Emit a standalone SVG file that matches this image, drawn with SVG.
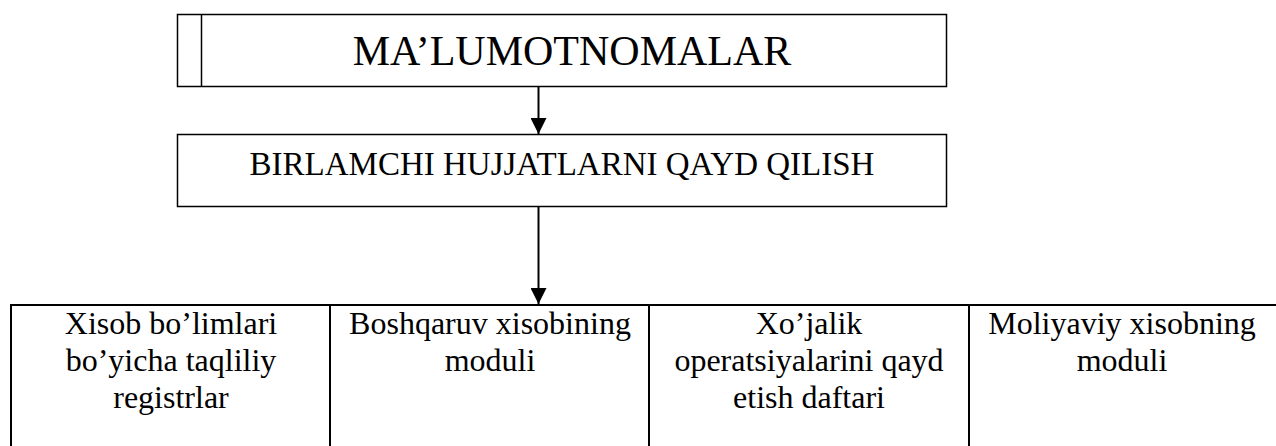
<svg xmlns="http://www.w3.org/2000/svg" width="1276" height="446" viewBox="0 0 1276 446">
  <style>
    .box { fill: #ffffff; stroke: #000000; stroke-width: 1.5; }
    .cell { fill: none; stroke: #000000; stroke-width: 2; }
    .wire { fill: none; stroke: #000000; stroke-width: 2; }
    .t { font-family: "Liberation Serif", "Times New Roman", serif; fill: #000000; text-anchor: middle; }
    .t42 { font-size: 42px; }
    .t33 { font-size: 33px; }
    .t32 { font-size: 32px; }
  </style>
  <defs>
    <marker id="arrowhead" markerUnits="userSpaceOnUse" markerWidth="16" markerHeight="16" refX="16" refY="8" orient="auto">
      <path d="M0,0 L16,8 L0,16 Z" fill="#000000"/>
    </marker>
  </defs>
  <rect x="0" y="0" width="1276" height="446" fill="#ffffff"/>

  <!-- reference books block -->
  <g id="node-malumotnomalar">
    <rect class="box" x="177.5" y="14.5" width="769" height="72"/>
    <line class="box" x1="201.5" y1="14.5" x2="201.5" y2="86.5"/>
    <text class="t t42" x="572" y="64.5">MA’LUMOTNOMALAR</text>
  </g>

  <!-- primary documents registration -->
  <g id="node-birlamchi">
    <rect class="box" x="177.5" y="134.5" width="769" height="72"/>
    <text class="t t33" x="562" y="175">BIRLAMCHI HUJJATLARNI QAYD QILISH</text>
  </g>

  <!-- lower row of four modules -->
  <g id="node-modules">
    <rect class="cell" x="11" y="305" width="1280" height="160"/>
    <line class="cell" x1="330" y1="305" x2="330" y2="446"/>
    <line class="cell" x1="649" y1="305" x2="649" y2="446"/>
    <line class="cell" x1="969" y1="305" x2="969" y2="446"/>
  </g>
  <g id="node-xisob-bolimlari">
    <text class="t t32" x="171" y="334">Xisob bo’limlari</text>
    <text class="t t32" x="171" y="371">bo’yicha taqliliy</text>
    <text class="t t32" x="171" y="408">registrlar</text>
  </g>
  <g id="node-boshqaruv">
    <text class="t t32" x="490" y="334">Boshqaruv xisobining</text>
    <text class="t t32" x="490" y="371">moduli</text>
  </g>
  <g id="node-xojalik">
    <text class="t t32" x="809" y="334">Xo’jalik</text>
    <text class="t t32" x="809" y="371">operatsiyalarini qayd</text>
    <text class="t t32" x="809" y="408">etish daftari</text>
  </g>
  <g id="node-moliyaviy">
    <text class="t t32" x="1122" y="334">Moliyaviy xisobning</text>
    <text class="t t32" x="1122" y="371">moduli</text>
  </g>

  <!-- connectors -->
  <g id="connectors">
    <line class="wire" x1="538.5" y1="86.5" x2="538.5" y2="134" marker-end="url(#arrowhead)"/>
    <line class="wire" x1="538.5" y1="206.5" x2="538.5" y2="304" marker-end="url(#arrowhead)"/>
  </g>
</svg>
